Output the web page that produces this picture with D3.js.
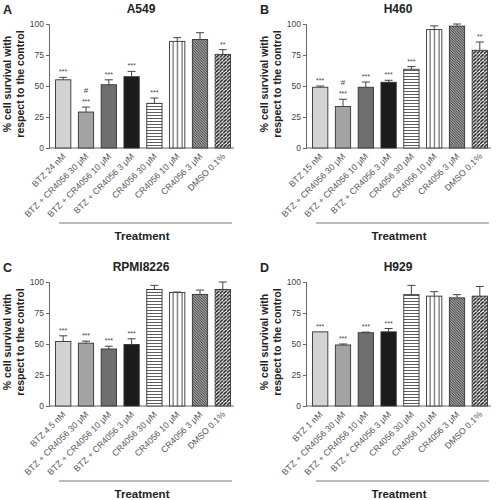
<!DOCTYPE html>
<html><head><meta charset="utf-8">
<script src="https://cdn.jsdelivr.net/npm/d3@7"></script>
<style>body{margin:0;background:#fff}svg{display:block;font-family:"Liberation Sans",Arial,sans-serif}</style>
</head><body><svg id="c" width="498" height="500"></svg>
<script>
const categoriesA = ["BTZ 24 nM","BTZ + CR4056 30 μM","BTZ + CR4056 10 μM","BTZ + CR4056 3 μM","CR4056 30 μM","CR4056 10 μM","CR4056 3 μM","DMSO 0.1%"];
const categoriesB = ["BTZ 15 nM","BTZ + CR4056 30 μM","BTZ + CR4056 10 μM","BTZ + CR4056 3 μM","CR4056 30 μM","CR4056 10 μM","CR4056 3 μM","DMSO 0.1%"];
const categoriesC = ["BTZ 4.5 nM","BTZ + CR4056 30 μM","BTZ + CR4056 10 μM","BTZ + CR4056 3 μM","CR4056 30 μM","CR4056 10 μM","CR4056 3 μM","DMSO 0.1%"];
const categoriesD = ["BTZ 1 nM","BTZ + CR4056 30 μM","BTZ + CR4056 10 μM","BTZ + CR4056 3 μM","CR4056 30 μM","CR4056 10 μM","CR4056 3 μM","DMSO 0.1%"];
const valuesA = [55, 29, 51, 57.5, 36, 86, 87.5, 75.5];
const errorsA = [2, 4, 4, 4.3, 4.3, 3, 5.5, 3.8];
const valuesB = [49, 33.5, 49, 53, 63.5, 95.5, 98.3, 78.8];
const errorsB = [1, 5.8, 4.2, 1.6, 2.2, 3, 1.7, 6.7];
const valuesC = [52, 50.7, 46, 49.6, 94, 91.5, 90, 94];
const errorsC = [4.6, 1.6, 2.2, 4.6, 3.3, 0.4, 3.5, 6];
const valuesD = [59.8, 49.2, 59.1, 59.8, 89.8, 88.6, 87.2, 88.6];
const errorsD = [0, 0.8, 0.5, 2.7, 7.5, 3.6, 2.6, 7.8];
const sigA = ["***","#\n***","***","***","***","","","**"];
const sigB = ["***","#\n***","***","***","***","","","**"];
const sigC = ["***","***","***","***","","","",""];
const sigD = ["***","***","***","***","","","",""];
const yTicks = [0, 25, 50, 75, 100];
const fills = ["#d3d3d3","#a3a3a3","#6f6f6f","#1b1b1b","url(#pH)","url(#pV)","url(#pD1)","url(#pD2)"];

const svg = d3.select("#c");
const defs = svg.append("defs");
function pat(id, size, draw){
  const p = defs.append("pattern").attr("id", id).attr("patternUnits","userSpaceOnUse").attr("width", size).attr("height", size);
  p.append("rect").attr("width", size).attr("height", size).attr("fill","#fff");
  draw(p, size);
}
pat("pH", 3, (p,s)=>p.append("line").attr("x1",0).attr("x2",s).attr("y1",1.5).attr("y2",1.5).attr("stroke","#333").attr("stroke-width",0.8));
pat("pV", 4.5, (p,s)=>p.append("line").attr("y1",0).attr("y2",s).attr("x1",2).attr("x2",2).attr("stroke","#333").attr("stroke-width",0.9));
pat("pD1", 2.6, (p,s)=>{
  p.select("rect").attr("fill","#ddd");
  p.append("path").attr("d",`M0,0L${s},${s}M${-s},0L${s},${2*s}M0,${-s}L${2*s},${s}`).attr("stroke","#222").attr("stroke-width",1);
});
pat("pD2", 3.6, (p,s)=>{
  p.append("path").attr("d",`M0,${s}L${s},0M${-s},${s}L0,0M${s},${2*s}L${2*s},${s}`).attr("stroke","#1a1a1a").attr("stroke-width",1.5);
});

const panels = [
  {letter:"A", title:"A549", cats:categoriesA, vals:valuesA, errs:errorsA, sig:sigA, dx:0, dy:0},
  {letter:"B", title:"H460", cats:categoriesB, vals:valuesB, errs:errorsB, sig:sigB, dx:257, dy:0},
  {letter:"C", title:"RPMI8226", cats:categoriesC, vals:valuesC, errs:errorsC, sig:sigC, dx:0, dy:258},
  {letter:"D", title:"H929", cats:categoriesD, vals:valuesD, errs:errorsD, sig:sigD, dx:257, dy:258}
];

panels.forEach(P => {
  const g = svg.append("g").attr("transform", `translate(${P.dx},${P.dy})`);
  const x = d3.scaleBand().domain(P.cats).range([51, 235]).paddingInner(0.33).paddingOuter(0.2);
  const y = d3.scaleLinear().domain([0, 100]).range([148, 24]);
  g.append("text").attr("x", 3).attr("y", 14).attr("font-size", 12.5).attr("font-weight", "bold").attr("fill","#222").text(P.letter);
  g.append("text").attr("x", 141).attr("y", 13).attr("text-anchor","middle").attr("font-size", 12).attr("font-weight", "bold").attr("fill","#222").text(P.title);
  const yl = g.append("text").attr("transform","translate(0,84) rotate(-90)").attr("text-anchor","middle").attr("font-size", 10.5).attr("font-weight","bold").attr("fill","#222");
  yl.append("tspan").attr("x",0).attr("y",11).text("% cell survival with");
  yl.append("tspan").attr("x",0).attr("y",24).text("respect to the control");
  const ya = g.append("g").attr("transform","translate(49,0)").call(d3.axisLeft(y).tickValues(yTicks).tickSize(3).tickPadding(2));
  ya.selectAll("text").attr("font-size", 8.5).attr("fill","#444").attr("font-family","Liberation Sans, Arial, sans-serif");
  ya.selectAll("line,path").attr("stroke","#666");
  const xa = g.append("g").attr("transform","translate(0,148)").call(d3.axisBottom(x).tickSize(0).tickPadding(0));
  xa.select("path").remove();
  g.append("line").attr("x1",49).attr("x2",234).attr("y1",148).attr("y2",148).attr("stroke","#666");
  xa.selectAll("text").attr("font-size", 8.8).attr("fill","#555").attr("font-family","Liberation Sans, Arial, sans-serif")
    .attr("text-anchor","end").attr("dy",null).attr("y",0).attr("transform","translate(3,9) rotate(-45)");
  const data = P.cats.map((c,i)=>({c, v:P.vals[i], e:P.errs[i], s:P.sig[i], f:fills[i]}));
  g.selectAll("rect.bar").data(data).join("rect").attr("class","bar")
    .attr("x", d=>x(d.c)).attr("width", x.bandwidth()).attr("y", d=>y(d.v)).attr("height", d=>y(0)-y(d.v))
    .attr("fill", d=>d.f).attr("stroke","#333").attr("stroke-width",0.9);
  const eb = g.selectAll("g.err").data(data.filter(d=>d.e>0)).join("g").attr("class","err").attr("stroke","#444").attr("stroke-width",1);
  eb.append("line").attr("x1", d=>x(d.c)+x.bandwidth()/2).attr("x2", d=>x(d.c)+x.bandwidth()/2).attr("y1", d=>y(d.v)).attr("y2", d=>y(d.v+d.e));
  eb.append("line").attr("x1", d=>x(d.c)+x.bandwidth()/2-4).attr("x2", d=>x(d.c)+x.bandwidth()/2+4).attr("y1", d=>y(d.v+d.e)).attr("y2", d=>y(d.v+d.e));
  data.filter(d=>d.s).forEach(d => {
    const lines = d.s.split("\n");
    const cx = x(d.c)+x.bandwidth()/2;
    const top = y(d.v+d.e) - 5;
    lines.slice().reverse().forEach((t,k) => {
      g.append("text").attr("x", cx).attr("y", top - k*9 + (t==="#"?0:2)).attr("text-anchor","middle")
        .attr("font-size", t==="#"?8:7).attr("fill","#444").text(t);
    });
  });
  g.append("line").attr("x1",59).attr("x2",232).attr("y1",223).attr("y2",223).attr("stroke","#777").attr("stroke-width",1);
  g.append("text").attr("x",142).attr("y",240).attr("text-anchor","middle").attr("font-size",11.5).attr("font-weight","bold").attr("fill","#222").text("Treatment");
});
</script></body></html>
